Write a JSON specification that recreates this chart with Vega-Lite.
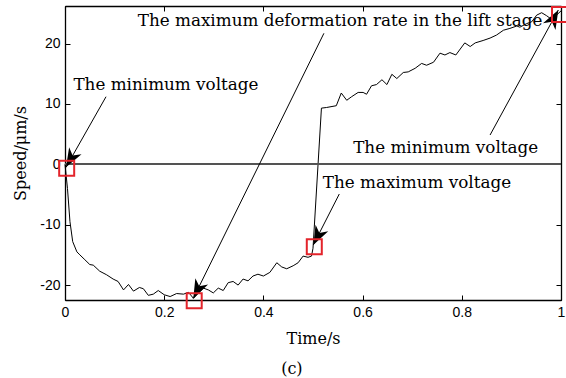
{
  "$schema": "https://vega.github.io/schema/vega-lite/v6.json",
  "width": 496,
  "height": 294,
  "autosize": {"type": "none"},
  "padding": {"left": 65, "top": 6, "right": 5, "bottom": 78},
  "background": "white",
  "title": {"text": "(c)", "orient": "bottom", "anchor": "middle", "frame": "bounds", "font": "DejaVu Serif", "fontSize": 16, "fontWeight": "normal", "color": "black", "offset": 15},
  "config": {
    "view": {"stroke": "black", "strokeWidth": 1},
    "axis": {"grid": false, "domainColor": "black", "domainWidth": 1.3, "tickColor": "black", "tickSize": -5, "tickWidth": 1, "labelFont": "Liberation Sans", "labelFontSize": 14, "labelColor": "black", "labelPadding": 10, "labelFlush": false, "titleFont": "DejaVu Serif", "titleFontSize": 16, "titleFontWeight": "normal", "titleColor": "black"}
  },
  "datasets": {
    "curve": [
      {"t": 0, "v": 0}, {"t": 0.005, "v": -4}, {"t": 0.01, "v": -9.5}, {"t": 0.0155, "v": -12.8}, {"t": 0.024, "v": -14.5},
      {"t": 0.03, "v": -15}, {"t": 0.04, "v": -15.8}, {"t": 0.05, "v": -16.6}, {"t": 0.057, "v": -16.7}, {"t": 0.07, "v": -17.7},
      {"t": 0.084, "v": -18.3}, {"t": 0.097, "v": -19}, {"t": 0.107, "v": -19.4}, {"t": 0.118, "v": -20.8}, {"t": 0.128, "v": -19.9},
      {"t": 0.138, "v": -21}, {"t": 0.15, "v": -20.4}, {"t": 0.158, "v": -20.6}, {"t": 0.168, "v": -21.7}, {"t": 0.178, "v": -21.5},
      {"t": 0.188, "v": -20.9}, {"t": 0.2, "v": -21.6}, {"t": 0.212, "v": -21.9}, {"t": 0.225, "v": -21.4}, {"t": 0.239, "v": -21.5},
      {"t": 0.249, "v": -21.2}, {"t": 0.259, "v": -22.2}, {"t": 0.279, "v": -20.5}, {"t": 0.289, "v": -20.8}, {"t": 0.299, "v": -21.3},
      {"t": 0.309, "v": -20.5}, {"t": 0.319, "v": -20.9}, {"t": 0.329, "v": -19.6}, {"t": 0.339, "v": -19.4}, {"t": 0.349, "v": -20},
      {"t": 0.359, "v": -19}, {"t": 0.369, "v": -19.3}, {"t": 0.379, "v": -18.5}, {"t": 0.389, "v": -18.2}, {"t": 0.4, "v": -18.5},
      {"t": 0.413, "v": -17.9}, {"t": 0.427, "v": -16.3}, {"t": 0.437, "v": -17}, {"t": 0.447, "v": -17.3}, {"t": 0.46, "v": -16.8},
      {"t": 0.47, "v": -16.3}, {"t": 0.48, "v": -15.2}, {"t": 0.49, "v": -15.4}, {"t": 0.497, "v": -15.2}, {"t": 0.5, "v": -13.9},
      {"t": 0.517, "v": 9.3}, {"t": 0.527, "v": 9.4}, {"t": 0.547, "v": 9.7}, {"t": 0.557, "v": 11.8}, {"t": 0.568, "v": 10.6},
      {"t": 0.578, "v": 11.2}, {"t": 0.591, "v": 11.9}, {"t": 0.601, "v": 11.9}, {"t": 0.608, "v": 11.6}, {"t": 0.618, "v": 13},
      {"t": 0.628, "v": 13.2}, {"t": 0.639, "v": 14}, {"t": 0.649, "v": 13.2}, {"t": 0.659, "v": 14.9}, {"t": 0.669, "v": 14.2},
      {"t": 0.682, "v": 15.2}, {"t": 0.692, "v": 15.3}, {"t": 0.706, "v": 15.9}, {"t": 0.719, "v": 16.7}, {"t": 0.729, "v": 16.4},
      {"t": 0.743, "v": 16.9}, {"t": 0.756, "v": 18.4}, {"t": 0.766, "v": 18.1}, {"t": 0.776, "v": 18.5}, {"t": 0.788, "v": 18.1},
      {"t": 0.806, "v": 20.1}, {"t": 0.817, "v": 19.5}, {"t": 0.827, "v": 20.1}, {"t": 0.843, "v": 20.5}, {"t": 0.857, "v": 20.9},
      {"t": 0.87, "v": 21.4}, {"t": 0.884, "v": 22.2}, {"t": 0.897, "v": 22.5}, {"t": 0.911, "v": 22.9}, {"t": 0.917, "v": 22.7},
      {"t": 0.931, "v": 23.3}, {"t": 0.941, "v": 23.6}, {"t": 0.951, "v": 24.7}, {"t": 0.961, "v": 25.1}, {"t": 0.971, "v": 24.6},
      {"t": 0.981, "v": 24}, {"t": 0.991, "v": 24.7}, {"t": 1.0, "v": 25.4}
    ],
    "notes": [
      {"k": 1, "label": "The minimum voltage", "tx": 0.017, "ty": 12.3, "sx": 0.0827, "sy": 11.19, "hx": 0.002, "hy": -0.5, "bx": 0.0034, "by": -0.66},
      {"k": 2, "label": "The maximum deformation rate in the lift stage", "tx": 0.1466, "ty": 22.9, "sx": 0.522, "sy": 21.69, "hx": 0.2587, "hy": -22.19, "bx": 0.2605, "by": -22.6},
      {"k": 3, "label": "The maximum voltage", "tx": 0.5196, "ty": -3.97, "sx": 0.553, "sy": -4.92, "hx": 0.5006, "hy": -13.36, "bx": 0.5026, "by": -13.64},
      {"k": 4, "label": "The minimum voltage", "tx": 0.581, "ty": 1.95, "sx": 0.857, "sy": 4.85, "hx": 0.9946, "hy": 25.55, "bx": 0.997, "by": 24.8}
    ]
  },
  "resolve": {"axis": {"x": "independent", "y": "independent"}},
  "layer": [
    {
      "data": {"name": "curve"},
      "mark": {"type": "line", "color": "black", "strokeWidth": 1},
      "encoding": {
        "x": {"field": "t", "type": "quantitative", "scale": {"domain": [0, 1], "nice": false, "zero": false},
              "axis": {"orient": "bottom", "title": "Time/s", "titleFontWeight": "normal", "values": [0, 0.2, 0.4, 0.6, 0.8, 1], "labelExpr": "toString(datum.value)", "titlePadding": 11}},
        "y": {"field": "v", "type": "quantitative", "scale": {"domain": [-22.47, 26.21], "nice": false, "zero": false},
              "axis": {"orient": "left", "title": "Speed/μm/s", "titleFontWeight": "normal", "values": [-20, -10, 0, 10, 20], "labelExpr": "toString(datum.value)", "titlePadding": 11}}
      }
    },
    {
      "data": {"name": "curve"},
      "mark": {"type": "point", "opacity": 0},
      "encoding": {
        "x": {"field": "t", "type": "quantitative",
              "axis": {"orient": "top", "title": null, "labels": false, "values": [0, 0.2, 0.4, 0.6, 0.8, 1]}},
        "y": {"field": "v", "type": "quantitative",
              "axis": {"orient": "right", "title": null, "labels": false, "values": [-20, -10, 0, 10, 20]}}
      }
    },
    {
      "data": {"name": "curve"},
      "mark": {"type": "rule", "color": "#555555", "strokeWidth": 1},
      "encoding": {"y": {"datum": 0, "type": "quantitative", "axis": null}}
    },
    {
      "data": {"name": "notes"},
      "mark": {"type": "rule", "color": "black", "strokeWidth": 1},
      "encoding": {
        "x": {"field": "sx", "type": "quantitative", "axis": null},
        "y": {"field": "sy", "type": "quantitative", "axis": null},
        "x2": {"field": "hx"},
        "y2": {"field": "hy"}
      }
    },
    {
      "data": {"name": "notes"},
      "transform": [{"filter": "datum.k == 1"}],
      "mark": {"type": "point", "shape": "M0,0L-0.45,1.2L0,0.85L0.45,1.2Z", "filled": true, "color": "black", "opacity": 1, "size": 1000, "angle": 209.5},
      "encoding": {"x": {"field": "hx", "type": "quantitative", "axis": null}, "y": {"field": "hy", "type": "quantitative", "axis": null}}
    },
    {
      "data": {"name": "notes"},
      "transform": [{"filter": "datum.k == 2"}],
      "mark": {"type": "point", "shape": "M0,0L-0.45,1.2L0,0.85L0.45,1.2Z", "filled": true, "color": "black", "opacity": 1, "size": 1000, "angle": 206.3},
      "encoding": {"x": {"field": "hx", "type": "quantitative", "axis": null}, "y": {"field": "hy", "type": "quantitative", "axis": null}}
    },
    {
      "data": {"name": "notes"},
      "transform": [{"filter": "datum.k == 3"}],
      "mark": {"type": "point", "shape": "M0,0L-0.45,1.2L0,0.85L0.45,1.2Z", "filled": true, "color": "black", "opacity": 1, "size": 1000, "angle": 207},
      "encoding": {"x": {"field": "hx", "type": "quantitative", "axis": null}, "y": {"field": "hy", "type": "quantitative", "axis": null}}
    },
    {
      "data": {"name": "notes"},
      "transform": [{"filter": "datum.k == 4"}],
      "mark": {"type": "point", "shape": "M0,0L-0.45,1.2L0,0.85L0.45,1.2Z", "filled": true, "color": "black", "opacity": 1, "size": 1000, "angle": 28.6},
      "encoding": {"x": {"field": "hx", "type": "quantitative", "axis": null}, "y": {"field": "hy", "type": "quantitative", "axis": null}}
    },
    {
      "data": {"name": "notes"},
      "mark": {"type": "point", "shape": "square", "filled": false, "stroke": "#e3242b", "strokeWidth": 2, "opacity": 1, "size": 225},
      "encoding": {"x": {"field": "bx", "type": "quantitative", "axis": null}, "y": {"field": "by", "type": "quantitative", "axis": null}}
    },
    {
      "data": {"name": "notes"},
      "mark": {"type": "text", "align": "left", "baseline": "alphabetic", "font": "DejaVu Serif", "fontSize": 16.8, "color": "black"},
      "encoding": {
        "x": {"field": "tx", "type": "quantitative", "axis": null},
        "y": {"field": "ty", "type": "quantitative", "axis": null},
        "text": {"field": "label"}
      }
    }
  ]
}
